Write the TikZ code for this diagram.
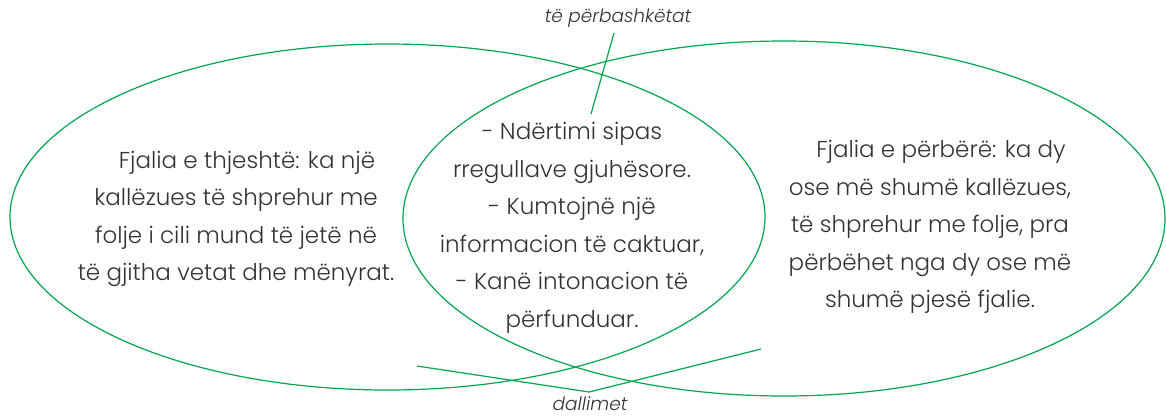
\documentclass[tikz,border=0pt]{standalone}
\usepackage{fontspec}
\setmainfont{Poppins Light}
\definecolor{venngreen}{HTML}{00A651}
\definecolor{txtgray}{HTML}{333333}
\begin{document}
\begin{tikzpicture}[x=1pt,y=-1pt,
  venn/.style={draw=venngreen,line width=1.2pt},
  body/.style={align=center,text=txtgray,inner sep=0pt,font=\fontsize{23}{37.5}\selectfont},
  lbl/.style={text=txtgray,inner sep=1pt,font=\itshape\fontsize{18.5}{20}\selectfont}]
\useasboundingbox (0,0) rectangle (1166,416);
\draw[venn] (387.5,217) ellipse [x radius=377.5, y radius=173];
\draw[venn] (784,218.5) ellipse [x radius=381, y radius=177.5];
\node[body] (left) at (236,219) {\hspace*{22pt}Fjalia e thjeshtë: ka një\\kallëzues të shprehur me\\folje i cili mund të jetë në\\të gjitha vetat dhe mënyrat.};
\node[body] (mid) at (572,228) {- Ndërtimi sipas\\rregullave gjuhësore.\\- Kumtojnë një\\informacion të caktuar,\\- Kanë intonacion të\\përfunduar.};
\node[body] (right) at (930,227) {\hspace*{22pt}Fjalia e përbërë: ka dy\\ose më shumë kallëzues,\\të shprehur me folje, pra\\përbëhet nga dy ose më\\shumë pjesë fjalie.};
\node[lbl] (common) at (618,18) {të përbashkëtat};
\node[lbl] (diff) at (590,404) {dallimet};
\coordinate (ctop) at (614,33);
\coordinate (cbot) at (591,114);
\coordinate (dl) at (417,366);
\coordinate (dm) at (589,392);
\coordinate (dr) at (761,349);
\draw[venn] (ctop) -- (cbot);
\draw[venn] (dl) -- (dm) -- (dr);
\end{tikzpicture}
\end{document}
